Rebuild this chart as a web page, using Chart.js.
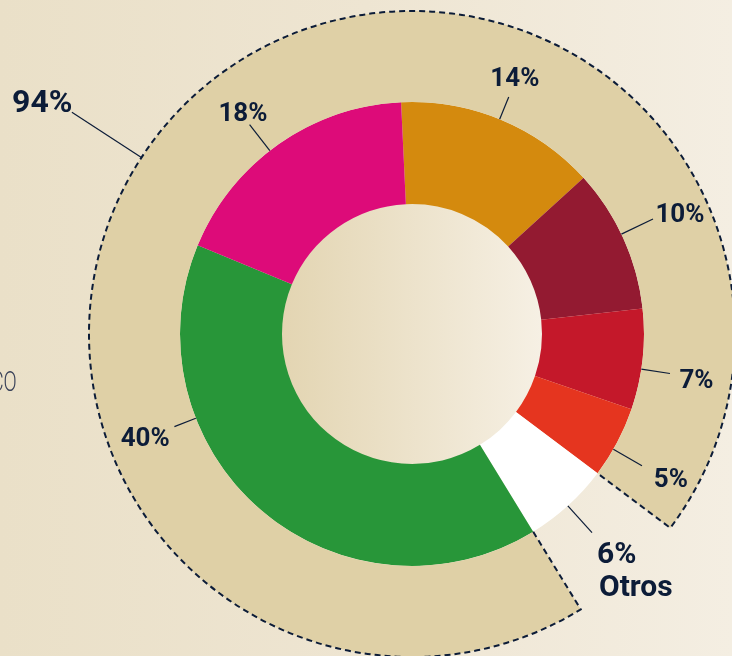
<!DOCTYPE html>
<html>
<head>
<meta charset="utf-8">
<script src="https://cdn.jsdelivr.net/npm/chart.js@4.4.1/dist/chart.umd.min.js"></script>
<style>
  html, body { margin: 0; padding: 0; }
  body { width: 732px; height: 656px; overflow: hidden; }
  #wrap {
    position: relative; width: 732px; height: 656px; overflow: hidden;
    background: linear-gradient(to right, #eae0c8 0%, #eee5d2 50%, #f4eee2 100%);
  }
  #donut { position: absolute; left: 0; top: 0; }
  #side {
    position: absolute; left: -9px; top: 366px;
    font-family: Roboto, sans-serif; font-weight: 300; font-size: 27px;
    color: #3a4259; transform: scaleX(0.72); transform-origin: left top;
  }
</style>
</head>
<body>
<div id="wrap">
  <canvas id="donut" width="800" height="700"></canvas>
  <div id="side">CO</div>
</div>
<script>
// share of each slice, clockwise from the top
const segmentValues = [14, 10, 7, 5, 6, 40, 18];
const segmentColors = ['#d48a0e', '#931a31', '#c4182a', '#e5351f', '#ffffff', '#289639', '#dd0b79'];
const otherLabel = 'Otros';
const otherIndex = 4;

// outer band: everything except "Otros", starting right after it
const outerValues = [94, 6];
const outerColors = ['#dfd0a6', 'rgba(0,0,0,0)'];
const mainShare = 94;

const ROTATION = -2.7;
const OUTER_ROTATION = 148.5;

// where each label sits: line angle (deg from top), line end radius, text angle, text radius
const labelLayout = [
  { a: 22.2, l: 256, ta: 21.8, t: 277 },
  { a: 64.5, l: 267, ta: 65.7, t: 294 },
  { a: 98.7, l: 261, ta: 99.0, t: 288 },
  { a: 119.8, l: 265, ta: 119.0, t: 296 },
  { a: 137.8, l: 268, ta: 139.7, t: 286 },
  { a: 248.7, l: 255, ta: 248.9, t: 286 },
  { a: 322.2, l: 265, ta: 322.7, t: 279 }
];
const mainLabelLayout = { a: 303.1, l: 406, ta: 302.2, t: 437 };

const NAVY = '#0c1c38';

function polar(cx, cy, deg, r) {
  const rad = (deg - 90) * Math.PI / 180;
  return [cx + Math.cos(rad) * r, cy + Math.sin(rad) * r];
}

const holePlugin = {
  id: 'hole',
  beforeDatasetsDraw(chart) {
    const arc = chart.getDatasetMeta(1).data[0];
    const { x, y, innerRadius } = arc.getProps(['x', 'y', 'innerRadius'], true);
    const ctx = chart.ctx;
    const g = ctx.createLinearGradient(x - innerRadius, 0, x + innerRadius, 0);
    g.addColorStop(0, '#e3d5b2');
    g.addColorStop(1, '#f6f0e4');
    ctx.save();
    ctx.beginPath();
    ctx.arc(x, y, innerRadius + 1, 0, Math.PI * 2);
    ctx.fillStyle = g;
    ctx.fill();
    ctx.restore();
  }
};

// dashed outline round the outer band, open at the gap
const dashPlugin = {
  id: 'dashedBand',
  afterDatasetsDraw(chart) {
    const gap = chart.getDatasetMeta(0).data[1];
    const p = gap.getProps(['x', 'y', 'startAngle', 'endAngle', 'innerRadius', 'outerRadius'], true);
    const ctx = chart.ctx;
    ctx.save();
    ctx.setLineDash([6, 4]);
    ctx.lineWidth = 2;
    ctx.strokeStyle = NAVY;
    ctx.beginPath();
    ctx.moveTo(p.x + Math.cos(p.endAngle) * p.innerRadius, p.y + Math.sin(p.endAngle) * p.innerRadius);
    ctx.lineTo(p.x + Math.cos(p.endAngle) * p.outerRadius, p.y + Math.sin(p.endAngle) * p.outerRadius);
    ctx.arc(p.x, p.y, p.outerRadius, p.endAngle, p.startAngle + Math.PI * 2);
    ctx.lineTo(p.x + Math.cos(p.startAngle) * p.innerRadius, p.y + Math.sin(p.startAngle) * p.innerRadius);
    ctx.stroke();
    ctx.restore();
  }
};

function drawLabel(ctx, cx, cy, r0, lay, text, size) {
  const [x1, y1] = polar(cx, cy, lay.a, r0);
  const [x2, y2] = polar(cx, cy, lay.a, lay.l);
  ctx.beginPath();
  ctx.moveTo(x1, y1);
  ctx.lineTo(x2, y2);
  ctx.stroke();
  const [tx, ty] = polar(cx, cy, lay.ta, lay.t);
  ctx.font = `700 ${size}px Roboto, sans-serif`;
  ctx.textAlign = 'center';
  ctx.fillText(text, tx, ty + size * 0.355);
}

const labelPlugin = {
  id: 'pctLabels',
  afterDraw(chart) {
    const ctx = chart.ctx;
    const inner = chart.getDatasetMeta(1).data[0].getProps(['x', 'y', 'outerRadius'], true);
    const band = chart.getDatasetMeta(0).data[0].getProps(['outerRadius'], true);
    const cx = inner.x, cy = inner.y;
    ctx.save();
    ctx.strokeStyle = NAVY;
    ctx.fillStyle = NAVY;
    ctx.lineWidth = 1.2;
    ctx.textBaseline = 'alphabetic';
    segmentValues.forEach((v, i) => {
      const lay = labelLayout[i];
      if (i === otherIndex) {
        const [x1, y1] = polar(cx, cy, lay.a, inner.outerRadius);
        const [x2, y2] = polar(cx, cy, lay.a, lay.l);
        ctx.beginPath();
        ctx.moveTo(x1, y1);
        ctx.lineTo(x2, y2);
        ctx.stroke();
        const [tx, ty] = polar(cx, cy, lay.ta, lay.t);
        ctx.font = '700 30px Roboto, sans-serif';
        ctx.textAlign = 'left';
        ctx.fillText(v + '%', tx, ty + 11);
        ctx.fillText(otherLabel, tx + 2, ty + 44);
      } else {
        drawLabel(ctx, cx, cy, inner.outerRadius, lay, v + '%', 26);
      }
    });
    drawLabel(ctx, cx, cy, band.outerRadius, mainLabelLayout, mainShare + '%', 32);
    ctx.restore();
  }
};

new Chart(document.getElementById('donut'), {
  type: 'doughnut',
  data: {
    datasets: [
      {
        data: outerValues,
        backgroundColor: outerColors,
        borderWidth: 0,
        rotation: OUTER_ROTATION,
        weight: 91
      },
      {
        data: segmentValues,
        backgroundColor: segmentColors,
        borderWidth: 0,
        rotation: ROTATION,
        weight: 102
      }
    ]
  },
  options: {
    responsive: false,
    animation: false,
    devicePixelRatio: 1,
    events: [],
    radius: 323,
    cutout: '40.25%',
    layout: { padding: { left: 24, right: 0, top: 0, bottom: 32 } },
    plugins: {
      legend: { display: false },
      tooltip: { enabled: false }
    }
  },
  plugins: [holePlugin, dashPlugin, labelPlugin]
});
</script>
</body>
</html>
